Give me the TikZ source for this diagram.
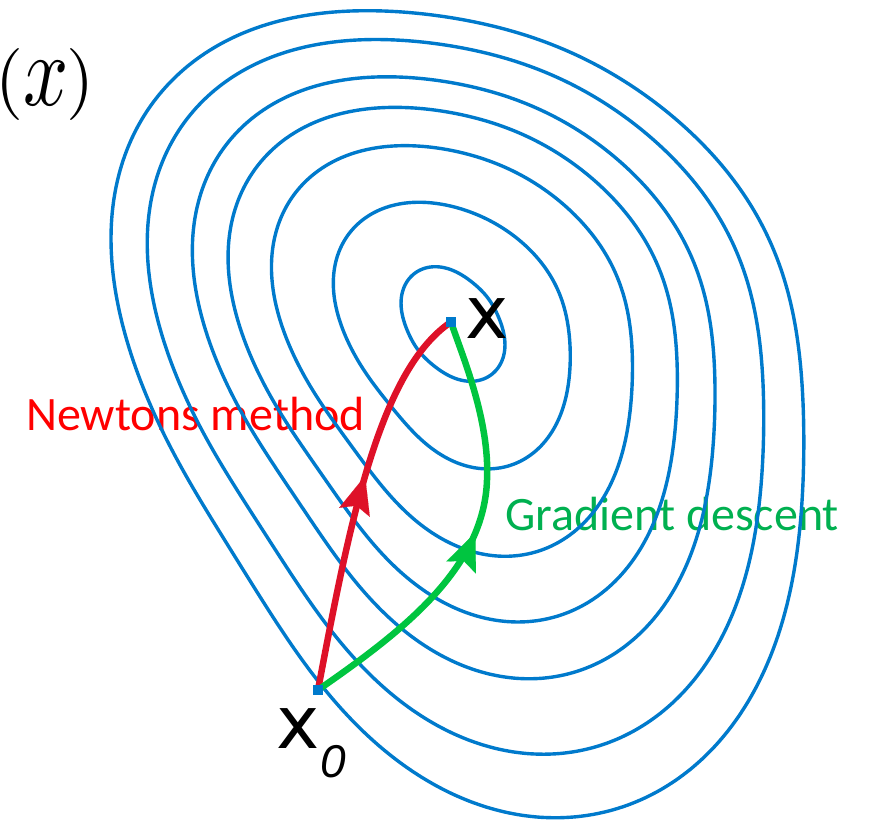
\documentclass[tikz,border=0pt]{standalone}
\usepackage{fontspec}
\usepackage{graphicx}
\usetikzlibrary{calc,arrows.meta,decorations.markings}
\newfontfamily\labelfont{Carlito}
\newfontfamily\xfont{DejaVu Sans}
\newfontfamily\subfont{Liberation Sans}
\definecolor{contourblue}{RGB}{0,122,204}
\definecolor{newtonred}{RGB}{222,17,40}
\definecolor{newtontext}{RGB}{255,0,0}
\definecolor{gradgreen}{RGB}{0,197,64}
\definecolor{gradtext}{RGB}{0,176,80}
\tikzset{bigtip/.tip={Stealth[length=38pt, width=32pt, inset=7pt, line width=0.1pt]}}
\begin{document}
\begin{tikzpicture}[x=1pt,y=-1pt,
  declare function={
    rout(\a)=361.3+15.26*cos(\a)+58.8*sin(\a)-25.9*cos(2*\a)+51.65*sin(2*\a)-14.6*cos(3*\a)-23.3*sin(3*\a)+0.9*cos(4*\a)-7.75*sin(4*\a)+5.0*cos(5*\a);
    rin(\a)=52.06-2.68*cos(2*\a)+9.65*sin(2*\a)-1.23*cos(4*\a)-0.75*sin(4*\a);
    rlev(\a,\q)=rin(\a)+(\q+(0.01-0.15*sin(\a))*\q*(1-\q))*(rout(\a)-rin(\a));
  },
  contour/.style={draw=contourblue, line width=3.4pt},
  newton/.style={draw=newtonred, line width=6.5pt},
  gradient/.style={draw=gradgreen, line width=6.5pt},
  dot/.style={rectangle, fill=contourblue, inner sep=0pt, minimum size=10pt},
  txt/.style={inner sep=0pt, anchor=base west}]
\useasboundingbox (0,0) rectangle (871,820);

% labels (under the contours)
\node[txt, text=newtontext, font=\labelfont\fontsize{48}{58}\selectfont] (lblnewton) at (26,430) {Newtons method};
\node[txt, text=gradtext, font=\labelfont\fontsize{48}{58}\selectfont] (lblgrad) at (505,530) {Gradient descent};
\node[txt] (lblfx) at (-5,102) {\scalebox{7.2}{$($\raisebox{-0.55pt}{\scalebox{1.1}[1.42]{$x$}}\kern-0.3pt$)$}};

% level curves around (453,324)
\foreach \lev in {0,0.225,0.435,0.585,0.71,0.87,1} {
  \draw[contour, shift={(453,324)}] plot[domain=0:358, samples=180, smooth cycle, variable=\ang]
    ({rlev(\ang,\lev)*cos(\ang)}, {rlev(\ang,\lev)*sin(\ang)});
}

% start and optimum
\coordinate (x0) at (318,690);
\coordinate (xs) at (451,322);

\draw[newton, postaction={decorate}, decoration={markings, mark=at position 0.55 with {\arrow{bigtip}}}]
  (x0) .. controls (350,520) and (380,370) .. (xs);
\draw[gradient, postaction={decorate}, decoration={markings, mark=at position 0.51 with {\arrow{bigtip}}}]
  (x0) .. controls (400,633) and (484,570) .. (487,480) .. controls (490,420) and (462,355) .. (xs);

\node[dot] (dotx0) at (x0) {};
\node[dot] (dotxs) at (xs) {};

\node[txt, font=\xfont\fontsize{73}{80}\selectfont] (lblxs) at (465,338) {x};
\node[txt, font=\xfont\fontsize{73}{80}\selectfont] (lblx0) at (276,748) {x};
\node[txt, font=\subfont\itshape\fontsize{46}{50}\selectfont] (lblsub) at (320,777) {0};
\end{tikzpicture}
\end{document}
